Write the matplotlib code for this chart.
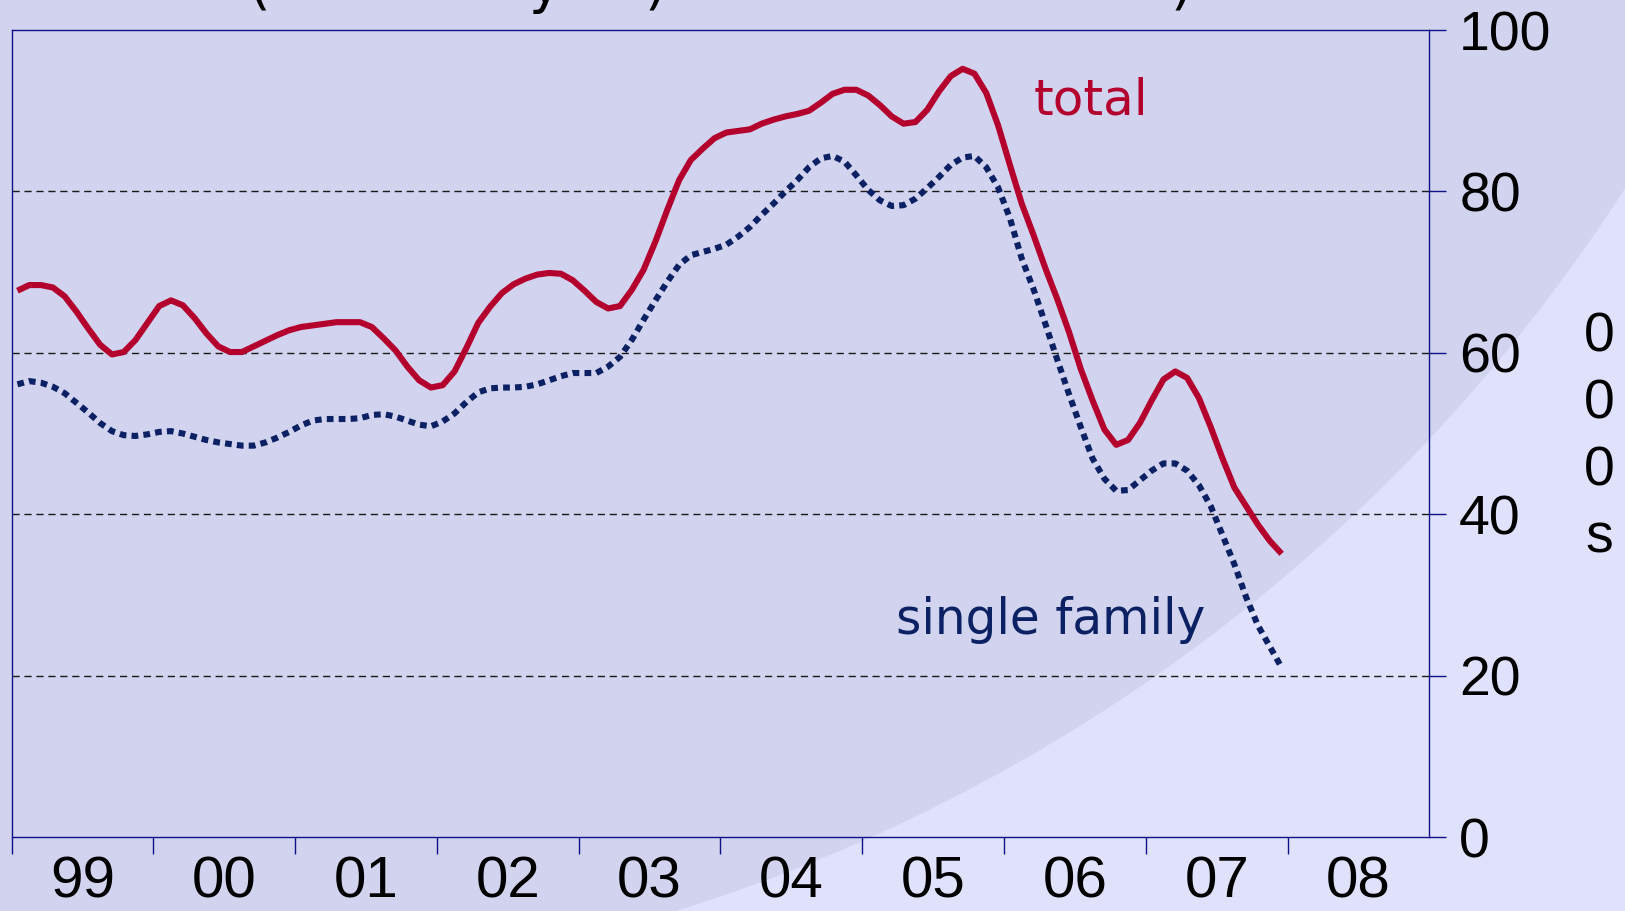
import matplotlib
matplotlib.use("Agg")
import matplotlib.pyplot as plt
from matplotlib.patches import Circle
import numpy as np

# monthly starts, Jan 1999 - Dec 2007 (000s)
total = [67.7, 68.4, 68.4, 68.1, 67.0, 65.1, 63.0, 61.0, 59.8, 60.1, 61.6, 63.7,
         65.8, 66.5, 65.9, 64.3, 62.4, 60.8, 60.1, 60.1, 60.8, 61.5, 62.2, 62.8,
         63.2, 63.4, 63.6, 63.8, 63.8, 63.8, 63.2, 61.8, 60.3, 58.3, 56.6, 55.7,
         56.0, 57.7, 60.6, 63.7, 65.7, 67.4, 68.5, 69.2, 69.7, 69.9, 69.8, 69.0,
         67.7, 66.3, 65.5, 65.8, 67.8, 70.3, 73.8, 77.7, 81.4, 83.9, 85.3, 86.6,
         87.3, 87.5, 87.7, 88.4, 88.9, 89.3, 89.6, 90.0, 91.0, 92.1, 92.6, 92.6,
         91.9, 90.7, 89.3, 88.4, 88.6, 90.1, 92.4, 94.3, 95.2, 94.6, 92.2, 88.2,
         83.3, 78.5, 74.6, 70.5, 66.7, 62.6, 58.0, 54.1, 50.5, 48.6, 49.2, 51.3,
         54.1, 56.7, 57.7, 56.9, 54.4, 50.8, 46.9, 43.3, 41.0, 38.7, 36.7, 35.1]

single_family = [56.1, 56.5, 56.3, 55.8, 55.0, 53.8, 52.6, 51.3, 50.3, 49.8, 49.7, 49.9,
                 50.2, 50.3, 50.0, 49.6, 49.2, 48.9, 48.7, 48.5, 48.5, 48.9, 49.5, 50.2,
                 51.0, 51.6, 51.8, 51.8, 51.8, 51.9, 52.3, 52.4, 52.1, 51.6, 51.1, 50.9,
                 51.5, 52.5, 53.9, 55.1, 55.6, 55.7, 55.7, 55.8, 56.1, 56.6, 57.1, 57.5,
                 57.5, 57.5, 58.3, 59.5, 61.6, 64.1, 66.5, 68.8, 70.9, 72.1, 72.5, 72.9,
                 73.4, 74.4, 75.6, 77.1, 78.5, 80.0, 81.4, 83.0, 84.1, 84.4, 83.7, 82.0,
                 80.2, 78.9, 78.2, 78.3, 79.1, 80.4, 81.8, 83.3, 84.2, 84.4, 83.0, 80.5,
                 76.7, 71.7, 67.9, 63.6, 59.2, 54.9, 50.8, 46.9, 44.4, 42.9, 43.0, 44.2,
                 45.4, 46.3, 46.3, 45.4, 43.6, 41.0, 37.4, 33.8, 29.7, 26.2, 23.6, 21.0]

years = list(range(1999, 2009))
year_labels = ["99", "00", "01", "02", "03", "04", "05", "06", "07", "08"]
y_ticks = [0, 20, 40, 60, 80, 100]

red = "#B3002D"
navy = "#0B2163"
axis_blue = "#10108A"
bg_dark = "#D2D3EE"
bg_light = "#E0E1FB"

fig = plt.figure(figsize=(16.25, 9.11), dpi=100)
fig.patch.set_facecolor(bg_light)

# big shaded disc behind everything
disc = Circle((1.57, 16.66), 17.45, transform=fig.dpi_scale_trans,
              facecolor=bg_dark, edgecolor="none", zorder=0)
fig.patches.append(disc)

ax = fig.add_axes([0.00708, 0.0812, 0.8725, 0.8858])
ax.set_zorder(1)
ax.set_facecolor("none")

x = 1999 + (np.arange(len(total)) + 0.5) / 12

for v in [20, 40, 60, 80]:
    ax.axhline(v, color="#1a1a1a", lw=1.0, dashes=(5.2, 3.4), zorder=1)

ax.plot(x, total, color=red, lw=4.4, solid_capstyle="butt", zorder=3)
ax.plot(x, single_family, color=navy, lw=4.4, linestyle=(0, (1.1, 0.85)),
        dash_capstyle="butt", zorder=3)

ax.set_xlim(1999, 2009)
ax.set_ylim(0, 100)

for s in ax.spines.values():
    s.set_color(axis_blue)
    s.set_linewidth(1.0)

ax.set_xticks(years)
ax.set_xticklabels([])
ax.set_xticks([y + 0.5 for y in years], minor=True)
ax.set_xticklabels(year_labels, minor=True, family="Liberation Sans", fontsize=42)
ax.tick_params(axis="x", which="major", direction="out", length=12.5,
               width=1.0, color=axis_blue)
ax.tick_params(axis="x", which="minor", length=0, pad=13)

ax.yaxis.tick_right()
ax.set_yticks(y_ticks)
ax.set_yticklabels([str(v) for v in y_ticks], family="Liberation Sans", fontsize=40)
ax.tick_params(axis="y", direction="out", length=12.5, width=1.0,
               color=axis_blue, pad=9)

ax.text(2006.21, 91.3, "total", color=red, fontsize=36, ha="left", va="center")
ax.text(2006.33, 26.9, "single family", color=navy, fontsize=35,
        ha="center", va="center")

fig.text(1599 / 1625, 1 - 438 / 911, "0\n0\n0\ns", family="Liberation Sans",
         fontsize=40, ha="center", va="center", linespacing=1.38)

# title sits above the top edge
for ch, px in [("(", 259), ("y", 545), (")", 655), (")", 1181)]:
    fig.text(px / 1625, 1 - 2 / 911, ch, fontsize=40, ha="center", va="baseline")

fig.savefig("out.png", dpi=100, facecolor=fig.get_facecolor())
